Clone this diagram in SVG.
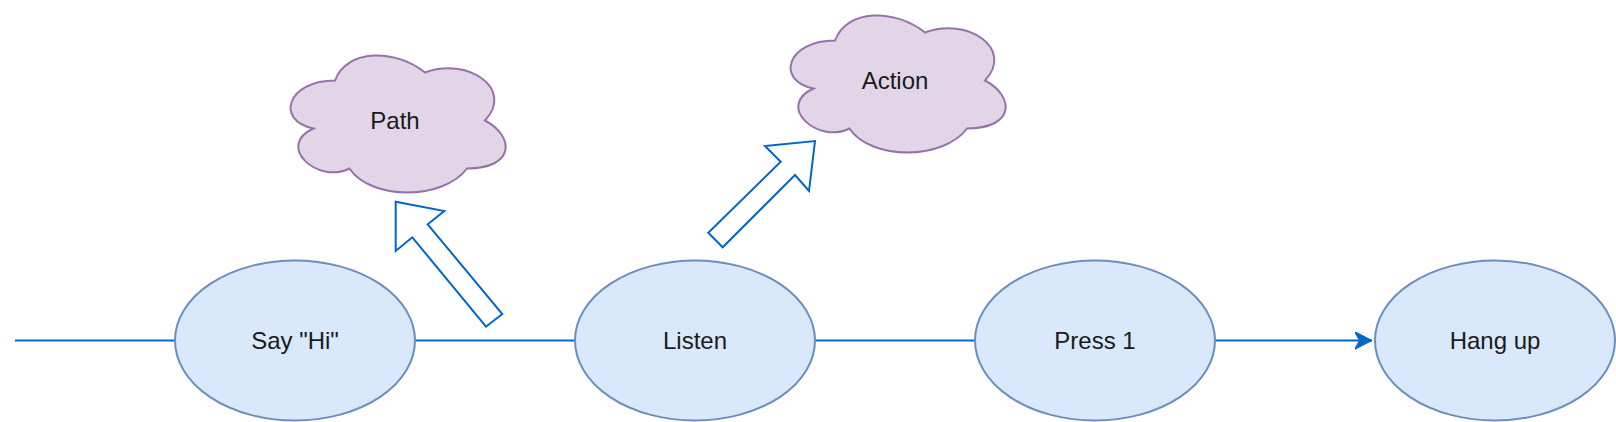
<svg xmlns="http://www.w3.org/2000/svg" width="1616" height="422" viewBox="0 0 1616 422">
<style>
.state{fill:#dae8fc;stroke:#6c8ebf;stroke-width:2}
.cloud{fill:#e1d5e7;stroke:#9673a6;stroke-width:2}
.edge{fill:none;stroke:#0066cc;stroke-width:2}
.flex{fill:#ffffff;stroke:#0066cc;stroke-width:2;stroke-linejoin:miter}
.lbl{font-family:"Liberation Sans",Arial,Helvetica,sans-serif;font-size:24px;fill:#1a1a1a;text-anchor:middle}
</style>
<defs>
<marker id="arrow" viewBox="0 0 18 18" refX="17.5" refY="9" markerWidth="18" markerHeight="18" markerUnits="userSpaceOnUse" orient="auto">
<path d="M0,0 L17.5,9 L0,18 L5,9 Z" fill="#0066cc" stroke="#0066cc" stroke-width="1"/>
</marker>
<path id="cloudShape" d="M60,40 C12,40 0,80 38.4,88 C0,105.6 43.2,144 74.4,128 C96,160 168,160 192,128 C240,128 240,96 210,80 C240,48 192,16 150,32 C120,8 72,8 60,40 Z"/>
</defs>
<g id="connectors">
<path class="edge" d="M15,340.5 L175,340.5"/>
<path class="edge" d="M415,340.5 L575,340.5"/>
<path class="edge" d="M815,340.5 L975,340.5"/>
<path class="edge" d="M1215,340.5 L1372,340.5" marker-end="url(#arrow)"/>
<path class="flex" d="M502.3,314 L486,326.7 L412.3,237.3 L395.7,251 L395.7,201.7 L444.3,211 L427.7,224.3 Z"/>
<path class="flex" d="M708.3,232.7 L722.7,247.3 L795,175 L809,191 L815,141 L765,146 L780.7,161.7 Z"/>
</g>
<g id="node-sayhi">
<ellipse class="state" cx="295" cy="340.5" rx="120" ry="80"/>
<text class="lbl" x="295" y="348.5">Say "Hi"</text>
</g>
<g id="node-listen">
<ellipse class="state" cx="695" cy="340.5" rx="120" ry="80"/>
<text class="lbl" x="695" y="348.5">Listen</text>
</g>
<g id="node-press1">
<ellipse class="state" cx="1095" cy="340.5" rx="120" ry="80"/>
<text class="lbl" x="1095" y="348.5">Press 1</text>
</g>
<g id="node-hangup">
<ellipse class="state" cx="1495" cy="340.5" rx="120" ry="80"/>
<text class="lbl" x="1495" y="348.5">Hang up</text>
</g>
<g id="node-path">
<use href="#cloudShape" class="cloud" transform="translate(275,40.5)"/>
<text class="lbl" x="395" y="128.5">Path</text>
</g>
<g id="node-action">
<use href="#cloudShape" class="cloud" transform="translate(775,0.5)"/>
<text class="lbl" x="895" y="88.5">Action</text>
</g>
</svg>
